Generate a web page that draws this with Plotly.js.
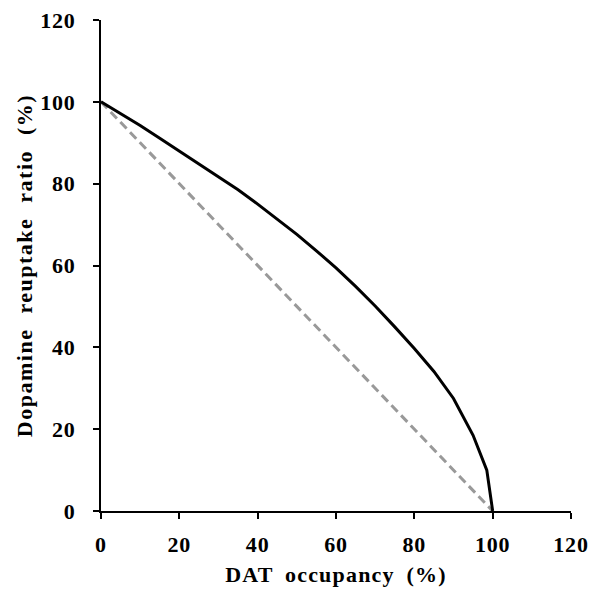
<!DOCTYPE html>
<html>
<head>
<meta charset="utf-8">
<script src="https://cdn.plot.ly/plotly-3.0.1.min.js"></script>
<style>
html,body{margin:0;padding:0;background:#fff;}
#chart{width:595px;height:599px;}
#chart .xtick text, #chart .ytick text{letter-spacing:0.8px;}
#chart .xtitle{letter-spacing:1.2px;word-spacing:5px;}
#chart .ytitle{letter-spacing:1.5px;word-spacing:8px;}
</style>
</head>
<body>
<div id="chart"></div>
<script>
// DAT occupancy (%) values
const occupancy = [0, 5, 10, 15, 20, 25, 30, 35, 40, 45, 50, 55, 60, 65, 70, 75, 80, 85, 90, 95, 98.5, 100];
// Dopamine reuptake ratio (%) - solid curve
const reuptake = [100, 97.2, 94.2, 91.1, 88.0, 84.9, 81.7, 78.5, 75.0, 71.4, 67.6, 63.6, 59.4, 54.9, 50.1, 45.0, 39.7, 34.1, 27.5, 18.5, 10.0, 0];
// Reference (dashed) line
const refX = [0, 100];
const refY = [100, 0];
const tickVals = [0, 20, 40, 60, 80, 100, 120];

const font = {family: '"Liberation Serif", "Times New Roman", serif', size: 22, color: '#000'};

const traces = [
  {x: refX, y: refY, mode: 'lines', line: {color: '#999999', width: 3, dash: '9px,5px'}, hoverinfo: 'skip'},
  {x: occupancy, y: reuptake, mode: 'lines', line: {color: '#000000', width: 3}, hoverinfo: 'skip'}
];

const axisCommon = {
  range: [0, 120],
  tickvals: tickVals,
  ticktext: tickVals.map(v => '<b>' + v + '</b>'),
  showgrid: false,
  zeroline: false,
  showline: true,
  linecolor: '#000',
  linewidth: 2,
  ticks: 'outside',
  ticklen: 6,
  tickwidth: 2,
  tickcolor: '#000',
  tickfont: font,
  fixedrange: true
};

const layout = {
  width: 595,
  height: 599,
  margin: {l: 101, r: 24, t: 20, b: 88},
  paper_bgcolor: '#fff',
  plot_bgcolor: '#fff',
  showlegend: false,
  xaxis: Object.assign({}, axisCommon, {
    ticklabelstandoff: 7,
    title: {text: '<b>DAT occupancy (%)</b>', font: font, standoff: 10}
  }),
  yaxis: Object.assign({}, axisCommon, {
    ticklabelstandoff: 13,
    title: {text: '<b>Dopamine reuptake ratio (%)</b>', font: font, standoff: 4}
  })
};

Plotly.newPlot('chart', traces, layout, {displayModeBar: false, staticPlot: true});
</script>
</body>
</html>
